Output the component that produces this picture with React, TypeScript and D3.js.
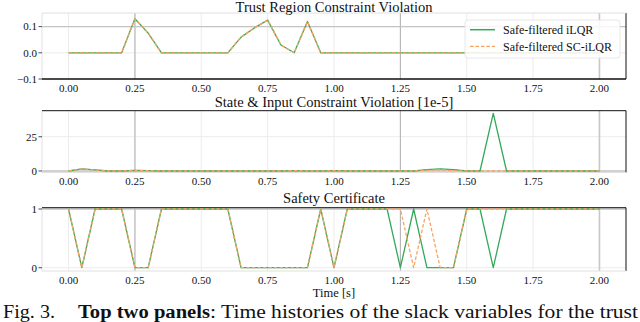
import React from "react";
import * as d3 from "d3";

const times = d3.range(0, 41).map((i) => +(i * 0.05).toFixed(2));

const trustIlqr = [0,0,0,0,0,0.13,0.075,0,0,0,0,0,0,0.06,0.095,0.125,0.03,0,0.12,0,0,0,0,0,0,0,0,0,0,0,0,0,0,0,0,0,0,0,0,0,0];
const trustSc   = [0,0,0,0,0,0.13,0.075,0,0,0,0,0,0,0.06,0.095,0.125,0.03,0,0.12,0,0,0,0,0,0,0,0,0,0,0,0,0,0,0,0,0,0,0,0,0,0];

const stateIlqr = [0,1.5,0.8,0,0,0.5,0.2,0,0,0,0,0,0,0,0,0,0,0.3,0,0,0.3,0,0,0,0,0,0,1,1.5,1,0,0,42,0,0,0,0,0,0,0,0];
const stateSc   = [0,1.5,0.8,0,0,0.5,0.2,0,0,0,0,0,0,0,0,0,0,0.3,0,0,0.3,0,0,0,0,0,0,0.5,0.8,0.3,0,0,0,0,0,0,0,0,0,0,0];

const certIlqr = [1,0,1,1,1,0,0,1,1,1,1,1,1,0,0,0,0,0,0,1,0,1,1,1,1,0,1,0,0,0,1,1,0,1,1,1,1,1,1,1,1];
const certSc   = [1,0,1,1,1,0,0,1,1,1,1,1,1,0,0,0,0,0,0,1,0,1,1,1,1,1,0,1,0,0,1,1,1,1,1,1,1,1,1,1,1];

const xTicks = [0, 0.25, 0.5, 0.75, 1.0, 1.25, 1.5, 1.75, 2.0];

const GREEN = "#34a95a";
const ORANGE = "#fba35e";
const FONT = "'Liberation Serif', 'DejaVu Serif', serif";

const x = d3.scaleLinear().domain([-0.1, 2.1]).range([42, 626]);

type Panel = {
  title: string;
  top: number;
  bottom: number;
  domain: [number, number];
  yTicks: number[];
  fmt: (v: number) => string;
  a: number[];
  b: number[];
  titleY: number;
  strongY: number[];
  blackTop: boolean;
  blackBottom: boolean;
};

const panels: Panel[] = [
  {
    title: "Trust Region Constraint Violation",
    top: 13, bottom: 79, domain: [-0.1, 0.152],
    yTicks: [-0.1, 0, 0.1],
    fmt: (v) => (v < 0 ? "\u2212" : "") + Math.abs(v).toFixed(1),
    a: trustIlqr, b: trustSc, titleY: 11.5, strongY: [0.1],
    blackTop: false, blackBottom: true,
  },
  {
    title: "State & Input Constraint Violation [1e-5]",
    top: 110.7, bottom: 172.5, domain: [-1.1, 44],
    yTicks: [0, 25],
    fmt: (v) => String(v),
    a: stateIlqr, b: stateSc, titleY: 107, strongY: [0],
    blackTop: true, blackBottom: false,
  },
  {
    title: "Safety Certificate",
    top: 207.7, bottom: 271, domain: [-0.056, 1.022],
    yTicks: [0, 1],
    fmt: (v) => String(v),
    a: certIlqr, b: certSc, titleY: 203, strongY: [1],
    blackTop: true, blackBottom: false,
  },
];

function PanelView({ p }: { p: Panel }) {
  const y = d3.scaleLinear().domain(p.domain).range([p.bottom, p.top]);
  const line = d3.line<number>().x((_, i) => x(times[i])).y((d) => y(d));
  const [x0, x1] = x.range();
  return (
    <g>
      {xTicks.map((t) => (
        <line key={"gx" + t} x1={x(t)} x2={x(t)} y1={p.top} y2={p.bottom} stroke="#ececec" strokeWidth={1} />
      ))}
      {p.yTicks.map((t) => (
        <line key={"gy" + t} x1={x0} x2={x1} y1={y(t)} y2={y(t)} stroke="#ececec" strokeWidth={1} />
      ))}
      <line x1={x(0.25)} x2={x(0.25)} y1={p.top} y2={p.bottom} stroke="#c8c8c8" strokeWidth={1.6} />
      <line x1={x(1.25)} x2={x(1.25)} y1={p.top} y2={p.bottom} stroke="#a0a0a0" strokeWidth={0.8} />
      <line x1={x(2.0)} x2={x(2.0)} y1={p.top} y2={p.bottom} stroke="#c8c8c8" strokeWidth={1.6} />
      {p.strongY.map((t) => (
        <line key={"sy" + t} x1={x0} x2={x1} y1={y(t)} y2={y(t)} stroke="#c4c4c4" strokeWidth={1.4} />
      ))}
      <line x1={x0} x2={x0} y1={p.top} y2={p.bottom} stroke="#e0e0e0" strokeWidth={1} />
      <line x1={x1} x2={x1} y1={p.top} y2={p.bottom} stroke="#111" strokeWidth={1} />
      <line x1={x0} x2={x1} y1={p.top} y2={p.top} stroke={p.blackTop ? "#111" : "#e0e0e0"} strokeWidth={1} />
      <line x1={x0} x2={x1} y1={p.bottom} y2={p.bottom} stroke={p.blackBottom ? "#111" : "#e0e0e0"} strokeWidth={p.blackBottom ? 1.3 : 1} />
      <path d={line(p.a) || ""} fill="none" stroke={GREEN} strokeWidth={1.3} strokeLinejoin="round" />
      <path d={line(p.b) || ""} fill="none" stroke={ORANGE} strokeWidth={1.3} strokeDasharray="3.5,2" strokeLinejoin="round" />
      {p.yTicks.map((t) => (
        <g key={"yt" + t}>
          <line x1={x0 - 3.5} x2={x0} y1={y(t)} y2={y(t)} stroke="#222" strokeWidth={0.8} />
          <text x={x0 - 5} y={y(t)} dy="0.35em" textAnchor="end" fontSize={11} fontFamily={FONT} fill="#111">
            {p.fmt(t)}
          </text>
        </g>
      ))}
      {xTicks.map((t) => (
        <text key={"xt" + t} x={x(t)} y={p.bottom + 12.5} textAnchor="middle" fontSize={11} fontFamily={FONT} fill="#111">
          {t.toFixed(2)}
        </text>
      ))}
      <text x={(x0 + x1) / 2} y={p.titleY} textAnchor="middle" fontSize={14.5} fontFamily={FONT} fill="#111">
        {p.title}
      </text>
    </g>
  );
}

export default function App() {
  return (
    <svg width={640} height={322} style={{ position: "absolute", left: 0, top: 0, background: "#fff" }}>
      <rect x={0} y={0} width={640} height={322} fill="#fff" />
      {panels.map((p, i) => (
        <PanelView key={i} p={p} />
      ))}
      <g>
        <rect x={465} y={20} width={155} height={38} rx={3} fill="#fff" fillOpacity={0.85} stroke="#e2e2e2" strokeWidth={0.8} />
        <line x1={470} x2={495} y1={29.7} y2={29.7} stroke={GREEN} strokeWidth={1.5} />
        <text x={503} y={29.7} dy="0.35em" fontSize={12} fontFamily={FONT} fill="#111">Safe-filtered iLQR</text>
        <line x1={470} x2={495} y1={46.3} y2={46.3} stroke={ORANGE} strokeWidth={1.3} strokeDasharray="3.5,2" />
        <text x={503} y={46.3} dy="0.35em" fontSize={12} fontFamily={FONT} fill="#111">Safe-filtered SC-iLQR</text>
      </g>
      <text x={334} y={297} textAnchor="middle" fontSize={12.5} fontFamily={FONT} fill="#111">Time [s]</text>
      <text y={318} fontSize={18} fontFamily={FONT} fill="#111">
        <tspan x={3} textLength={52} lengthAdjust="spacingAndGlyphs">Fig. 3.</tspan>
        <tspan x={78} fontWeight="bold" textLength={132} lengthAdjust="spacingAndGlyphs">Top two panels</tspan>
        <tspan x={210} textLength={428} lengthAdjust="spacingAndGlyphs">: Time histories of the slack variables for the trust</tspan>
      </text>
    </svg>
  );
}
